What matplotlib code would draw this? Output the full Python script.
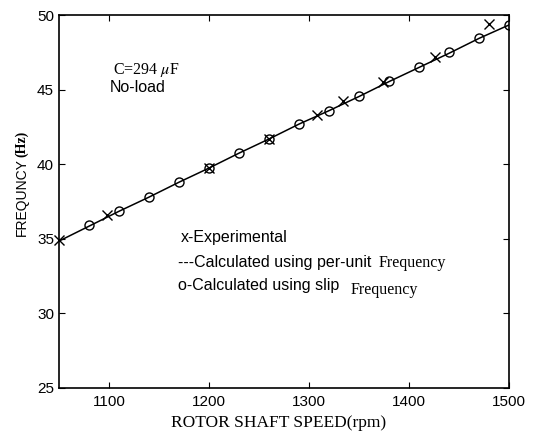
import numpy as np
import matplotlib.pyplot as plt

# rotor speed (rpm) / frequency (Hz)
rpm_slip = [1080, 1110, 1140, 1170, 1200, 1230, 1260, 1290, 1320, 1350,
            1380, 1410, 1440, 1470, 1500]
f_slip = [35.9, 36.9, 37.8, 38.8, 39.75, 40.75, 41.7, 42.7, 43.6, 44.6,
          45.6, 46.5, 47.5, 48.5, 49.35]

rpm_pu = [1050, 1080, 1110, 1140, 1170, 1200, 1230, 1260, 1290, 1320, 1350,
          1380, 1410, 1440, 1470, 1500]
f_pu = [34.85, 35.85, 36.85, 37.8, 38.8, 39.75, 40.75, 41.7, 42.7, 43.6,
        44.55, 45.55, 46.5, 47.45, 48.45, 49.35]

rpm_exp = [1050, 1098, 1200, 1260, 1308, 1334, 1374, 1426, 1480]
f_exp = [34.9, 36.6, 39.75, 41.7, 43.3, 44.25, 45.5, 47.2, 49.4]

xticks = [1100, 1200, 1300, 1400, 1500]
yticks = [25, 30, 35, 40, 45, 50]

plt.rcParams['font.family'] = ['Liberation Sans', 'DejaVu Sans']

fig = plt.figure(figsize=(5.36, 4.34), dpi=100)
ax = fig.add_axes([0.110, 0.106, 0.840, 0.859])

ax.plot(rpm_pu, f_pu, color='black', lw=1.1, zorder=2)
ax.plot(rpm_slip, f_slip, 'o', mfc='none', mec='black', ms=6.5, mew=1.0, zorder=3)
ax.plot(rpm_exp, f_exp, 'x', color='black', ms=7.5, mew=1.0, zorder=4, clip_on=False)

ax.set_xlim(1050, 1500)
ax.set_ylim(25, 50)
ax.set_xticks(xticks)
ax.set_yticks(yticks)
ax.tick_params(direction='in', top=True, right=True, length=4, width=0.8,
               labelsize=11, colors='black')
ax.tick_params(axis='x', pad=5)
for s in ax.spines.values():
    s.set_linewidth(1.2)

ax.set_xlabel('ROTOR SHAFT SPEED(rpm)', family='Liberation Serif', fontsize=12.5)
ax.xaxis.set_label_coords(0.487, -0.073)

fig.text(0.041, 0.545, 'FREQUNCY', rotation=90, fontsize=10, ha='center', va='center')
fig.text(0.041, 0.668, '(Hz)', rotation=90, fontsize=10, ha='center', va='center',
         family='Liberation Serif', weight='bold')

ax.text(1104, 46.3, 'C=294 $\\mu$F', family='Liberation Serif', fontsize=11.5,
        math_fontfamily='stix', va='center')
ax.text(1101, 45.15, 'No-load', fontsize=11.5, va='center')

ax.text(1172, 35.1, 'x-Experimental', fontsize=11.5, va='center')
ax.text(1169, 33.4, '---Calculated using per-unit', fontsize=11.5, va='center')
ax.text(1369, 33.4, 'Frequency', fontsize=11.5, family='Liberation Serif', va='center')
ax.text(1169, 31.85, 'o-Calculated using slip', fontsize=11.5, va='center')
ax.text(1341, 31.6, 'Frequency', fontsize=11.5, family='Liberation Serif', va='center')

fig.savefig('out.png', dpi=100)
